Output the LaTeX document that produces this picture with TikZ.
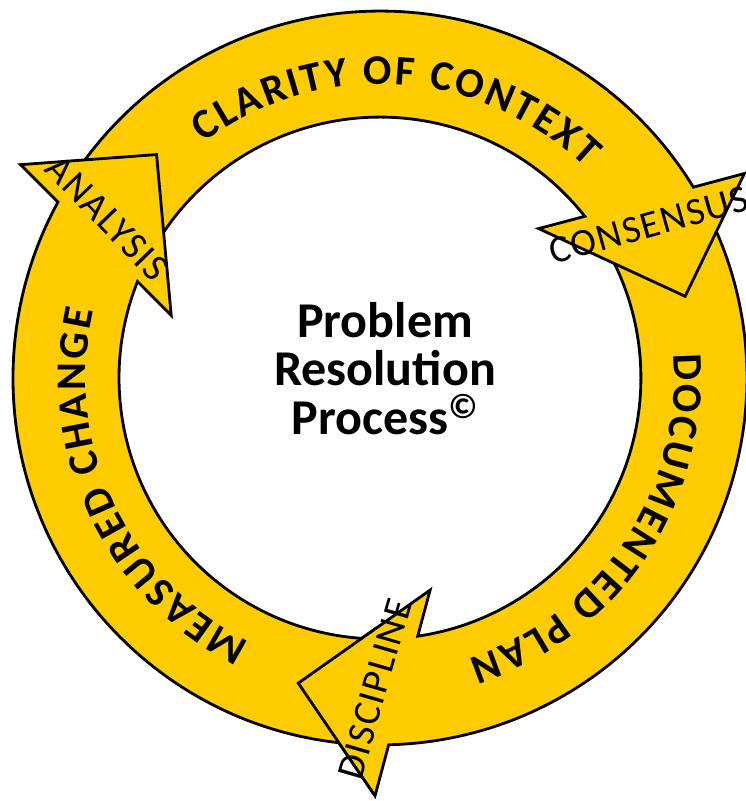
\documentclass[tikz,border=0pt]{standalone}
\usepackage{fontspec}
\setmainfont{Carlito}
\newfontfamily\headfamily[LetterSpace=4]{Carlito}
\newcommand\ringfont{\bfseries\fontsize{24}{24}\selectfont\kern1.4pt}
\usetikzlibrary{decorations.text}
\definecolor{ringyellow}{RGB}{255,204,0}

\begin{document}
\begin{tikzpicture}[scale=0.02,
  ringseg/.style={fill=ringyellow, draw=black, line width=1.6pt},
  headlabel/.style={font=\headfamily\fontsize{22}{22}\selectfont, inner sep=0pt},
  ringlabel/.style={decorate, decoration={text along path, text align=center, text={|\ringfont|#1}}}]
\useasboundingbox (-380,-423) rectangle (366,378);

%documented plan, discipline head
\begin{scope}[rotate=255]
\draw [ringseg] (133:367) arc[start angle=133, end angle=16.35, radius=367] -- (405,103.3) -- (316,0) -- (192,103.3) -- (23.3:261) arc[start angle=23.3, end angle=133, radius=261] -- cycle;
\end{scope}

%clarity of context, consensus head
\begin{scope}[rotate=15]
\draw [ringseg] (133:367) arc[start angle=133, end angle=16.35, radius=367] -- (405,103.3) -- (316,0) -- (192,103.3) -- (23.3:261) arc[start angle=23.3, end angle=133, radius=261] -- cycle;
\end{scope}

%measured change, analysis head
\begin{scope}[rotate=135]
\draw [ringseg] (133:367) arc[start angle=133, end angle=16.35, radius=367] -- (405,103.3) -- (316,0) -- (192,103.3) -- (23.3:261) arc[start angle=23.3, end angle=133, radius=261] -- cycle;
\end{scope}

%discipline head again, over the start of measured change
\begin{scope}[rotate=255]
\clip (0,0) -- (-3:460) arc[start angle=-3, end angle=14, radius=460] -- cycle;
\draw [ringseg] (133:367) arc[start angle=133, end angle=16.35, radius=367] -- (405,103.3) -- (316,0) -- (192,103.3) -- (23.3:261) arc[start angle=23.3, end angle=133, radius=261] -- cycle;
\end{scope}

%ring texts
\path [ringlabel={CLARITY OF CONTEXT}] (136.5:294) arc[start angle=136.5, end angle=36.5, radius=294];
\path [ringlabel={DOCUMENTED PLAN}] (16.3:294) arc[start angle=16.3, end angle=-83.7, radius=294];
\path [ringlabel={MEASURED CHANGE}] (255.5:294) arc[start angle=255.5, end angle=155.5, radius=294];

%head texts
\node [headlabel, rotate=-46] (analysis) at (-273,160) {ANALYSIS};
\node [headlabel, rotate=15.7] (consensus) at (269,153) {CONSENSUS};
\node [headlabel, rotate=74] (discipline) at (-5,-311) {DISCIPLINE};

\node [align=center, font=\bfseries\fontsize{28.5}{27.8}\selectfont] (title) at (5,9.5) {Problem\\Resolution\\Process\textsuperscript{\textcopyright}};
\end{tikzpicture}
\end{document}
